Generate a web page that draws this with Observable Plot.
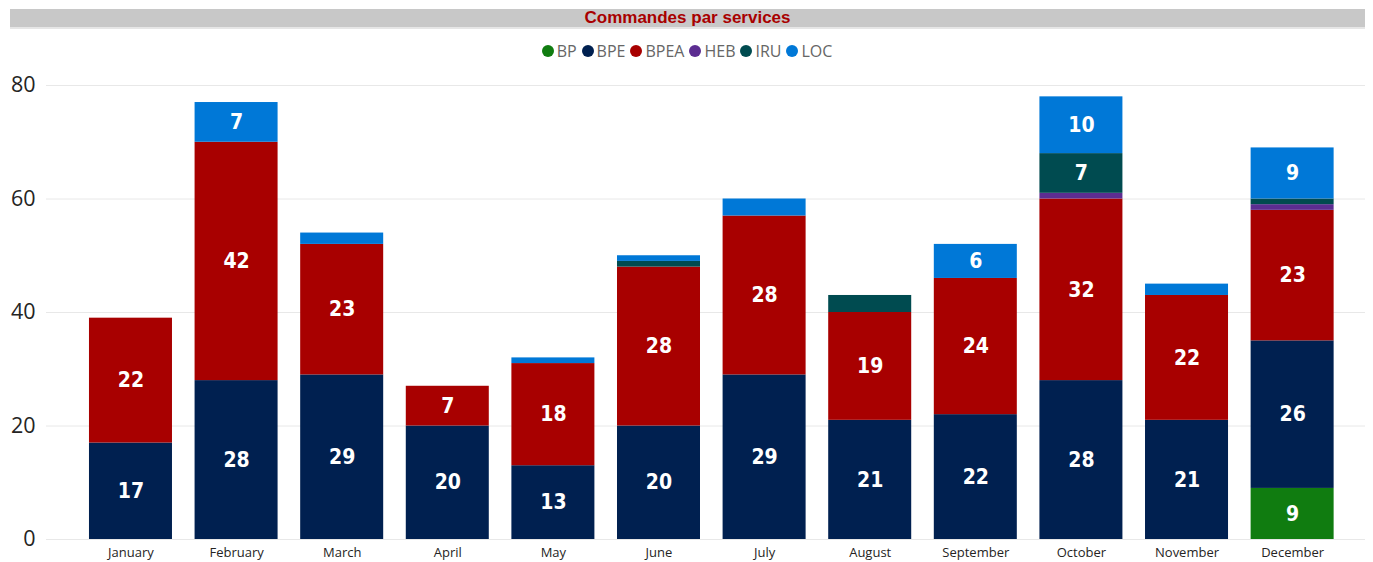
<!DOCTYPE html>
<html><head><meta charset="utf-8">
<script src="https://cdn.jsdelivr.net/npm/d3@7"></script>
<script src="https://cdn.jsdelivr.net/npm/@observablehq/plot@0.6"></script>
<style>
body{margin:0;background:#fff;width:1373px;height:562px;overflow:hidden;position:relative;}
#title{position:absolute;left:10px;top:9px;width:1355px;height:18px;background:#c8c8c8;border-bottom:2px solid #e6e6e6;text-align:center;font:bold 17px "Liberation Sans Narrow","Liberation Sans",sans-serif;color:#a80000;line-height:17px;}
#legend{position:absolute;left:0;top:40px;width:1373px;display:flex;justify-content:center;padding-left:6px;box-sizing:border-box;font:16px "Open Sans",sans-serif;color:#666;}
#legend span{display:flex;align-items:center;margin-right:5px;}
#legend i{display:inline-block;width:12px;height:12px;border-radius:50%;margin-right:3px;}
#chart{position:absolute;left:0;top:70px;}
</style></head>
<body>
<div id="title">Commandes par services</div>
<div id="legend"></div>
<div id="chart"></div>
<script>
const months = ["January","February","March","April","May","June","July","August","September","October","November","December"];
const series = ["BP","BPE","BPEA","HEB","IRU","LOC"];
const colors = ["#107c10","#002050","#a80000","#5c2d91","#004b50","#0078d7"];
const BP   = [0,0,0,0,0,0,0,0,0,0,0,9];
const BPE  = [17,28,29,20,13,20,29,21,22,28,21,26];
const BPEA = [22,42,23,7,18,28,28,19,24,32,22,23];
const HEB  = [0,0,0,0,0,0,0,0,0,1,0,1];
const IRU  = [0,0,0,0,0,1,0,3,0,7,0,1];
const LOC  = [0,7,2,0,1,1,3,0,6,10,2,9];
const yTicks = [0,20,40,60,80];

const values = {BP,BPE,BPEA,HEB,IRU,LOC};
const data = [];
series.forEach(s => months.forEach((m,i) => data.push({month:m, service:s, value:values[s][i]})));

const leg = document.getElementById("legend");
series.forEach((s,i)=>{
  const sp=document.createElement("span");
  sp.innerHTML=`<i style="background:${colors[i]}"></i>${s}`;
  leg.appendChild(sp);
});

const chart = Plot.plot({
  width: 1373,
  height: 492,
  marginLeft: 46,
  marginRight: 8,
  marginTop: 15,
  marginBottom: 23,
  style: {fontFamily: "'Open Sans', sans-serif", background: "transparent"},
  x: {domain: months, paddingInner: 0.214, paddingOuter: 0.352, align: 0.578, round: false, label: null, tickSize: 0},
  y: {domain: [0,80], ticks: yTicks, label: null, tickSize: 0},
  color: {domain: series, range: colors},
  marks: [
    Plot.gridY(yTicks, {stroke: "#e8e8e8", strokeOpacity: 1}),
    Plot.barY(data, Plot.stackY({x: "month", y: "value", z: "service", fill: "service", order: series})),
    Plot.text(data, Plot.stackY({x: "month", y: "value", z: "service", order: series,
      text: d => d.value >= 5 ? String(d.value) : "",
      fill: "white", fontSize: 21, fontWeight: "bold",
      fontFamily: "'DejaVu Sans Condensed', sans-serif"})),
    Plot.axisX({tickSize: 0, tickPadding: 8, fontSize: 13, color: "#252423", label: null}),
    Plot.axisY(yTicks, {tickSize: 0, tickPadding: 11, fontSize: 21.5, color: "#252423", label: null})
  ]
});
document.getElementById("chart").appendChild(chart);
</script>
</body></html>
